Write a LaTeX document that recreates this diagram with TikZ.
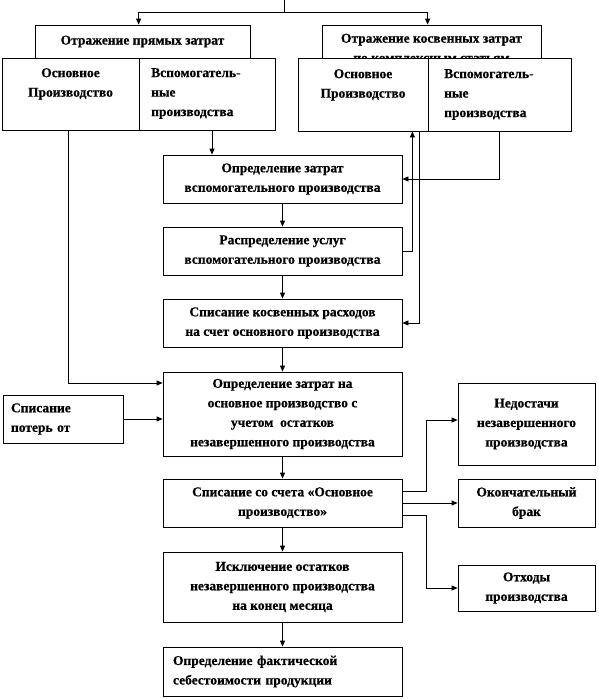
\documentclass[tikz,border=0pt]{standalone}
\usepackage{fontspec}
\setmainfont{Liberation Serif}[FakeBold=0.6]
\usetikzlibrary{arrows.meta}
\tikzset{
  txt/.style={font=\bfseries\fontsize{13.5}{19.5}\selectfont, inner sep=0pt},
  box/.style={draw, line width=0.8pt, fill=white, inner sep=0pt, align=center, txt},
  arr/.style={-{Triangle[length=6pt,width=5pt]}, line width=0.8pt},
  ln/.style={line width=0.8pt},
}
\begin{document}
\begin{tikzpicture}[x=1pt,y=-1pt]
\useasboundingbox (0,0) rectangle (598,699);
% top boxes
\node[box, minimum width=215, minimum height=33] (topL) at (142.5,41.5) {Отражение прямых затрат};
\node[box, minimum width=219, minimum height=33] (topR) at (431.5,41.5) {};
\node[txt, align=center] (topRt) at (431.5,48) {Отражение косвенных затрат\\по комплексным статьям};
% left lower cells
\node[box, minimum width=137, minimum height=72] (LL) at (70.5,94) {};
\node[box, minimum width=136, minimum height=72] (LR) at (207,94) {};
\node[txt, align=center, anchor=north] (LLt) at (70.5,68) {Основное\\Производство};
\node[txt, align=left, anchor=north west] (LRt) at (151,68) {Вспомогатель-\\ные\\производства};
% right lower cells
\node[box, minimum width=130, minimum height=73] (RL) at (363,94.5) {};
\node[box, minimum width=143, minimum height=73] (RR) at (499.5,94.5) {};
\node[txt, align=center, anchor=north] (RLt) at (363,69) {Основное\\Производство};
\node[txt, align=left, anchor=north west] (RRt) at (444,69) {Вспомогатель-\\ные\\производства};
% middle column
\node[box, minimum width=239, minimum height=48] (B1) at (282.5,179) {Определение затрат\\вспомогательного производства};
\node[box, minimum width=239, minimum height=48] (B2) at (282.5,251) {Распределение услуг\\вспомогательного производства};
\node[box, minimum width=239, minimum height=48] (B3) at (282.5,323) {Списание косвенных расходов\\на счет основного производства};
\node[box, minimum width=239, minimum height=84] (B4) at (282.5,414) {Определение затрат на\\основное производство с\\учетом\ \ остатков\\незавершенного производства};
\node[box, minimum width=239, minimum height=48] (B5) at (282.5,503) {Списание со счета «Основное\\производство»};
\node[box, minimum width=239, minimum height=70] (B6) at (282.5,587) {Исключение остатков\\незавершенного производства\\на конец месяца};
\node[box, minimum width=239, minimum height=49, align=left, text width=219] (B7) at (282.5,671.5) {Определение фактической\\себестоимости продукции};
% left side
\node[box, minimum width=120, minimum height=48, align=left, text width=104] (Loss) at (63,419) {Списание\\потерь от};
% right side
\node[box, minimum width=137, minimum height=82] (N1) at (526.5,424) {Недостачи\\незавершенного\\производства};
\node[box, minimum width=137, minimum height=48] (N2) at (526.5,503) {Окончательный\\брак};
\node[box, minimum width=137, minimum height=46] (N3) at (526.5,588) {Отходы\\производства};
% connectors
\coordinate (top) at (284,0);
\coordinate (j) at (284,12);
\draw[ln] (top) -- (j);
\draw[arr] (j) -| (topL.north -| LR.west);
\draw[arr] (j) -| (topR.north -| RR.west);
\draw[arr] ([xshift=-2.5pt]LL.south) |- ([yshift=31pt]B4.west);
\draw[arr] ([xshift=5pt]LR.south) -- ([xshift=5pt]LR.south |- B1.north);
\draw[arr] (RR.south) |- (B1.east);
\draw[arr] (B2.east) -| ([xshift=-16pt]RL.south east);
\draw[arr] ([xshift=-9pt]RL.south east) |- (B3.east);
\draw[arr] (B1) -- (B2);
\draw[arr] (B2) -- (B3);
\draw[arr] (B3) -- (B4);
\draw[arr] (B4) -- (B5);
\draw[arr] (B5) -- (B6);
\draw[arr] (B6) -- (B7);
\draw[arr] (Loss.east) -- (Loss.east -| B4.west);
\draw[arr] ([yshift=12pt]B5.east) -- ++(24,0) |- ([yshift=4pt]N1.west);
\draw[arr] (B5.east) -- (N2.west);
\draw[arr] ([yshift=-12pt]B5.east) -- ++(24,0) |- (N3.west);
\end{tikzpicture}
\end{document}
